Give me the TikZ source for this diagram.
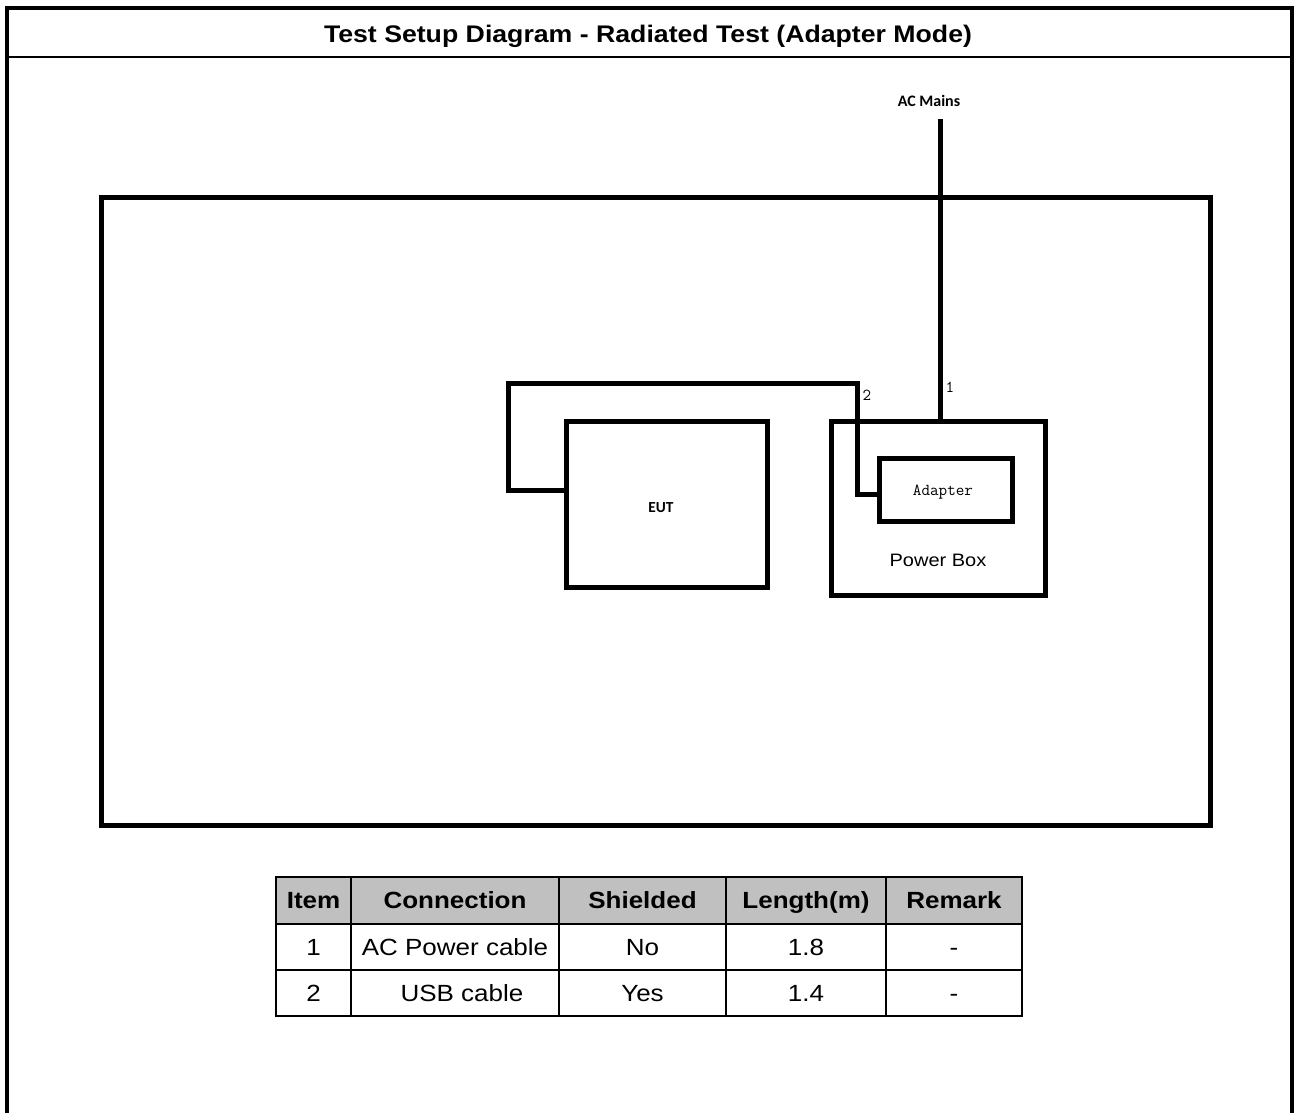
\documentclass[tikz,border=0pt]{standalone}
\usepackage{fontspec}
\usepackage{graphicx}
\setmainfont{Liberation Sans}
\newfontfamily\calfont{Carlito}
\newcommand\sqz[1]{\scalebox{1}[0.9]{#1}}
\def\px{0.75pt}
\begin{document}
\begin{tikzpicture}[x=0.75pt,y=-0.75pt,
  box/.style={draw, rectangle, line width=3.75pt, inner sep=0pt, outer sep=0pt},
  cable/.style={line width=3.75pt},
  frame/.style={line width=3pt},
  cell/.style={draw, rectangle, line width=1.5pt, inner sep=0pt, outer sep=0pt,
               text height=12.6pt, text depth=0pt,
               font=\fontsize{19.5}{22}\selectfont},
  head/.style={cell, fill=headgray, font=\bfseries\fontsize{19.5}{22}\selectfont},
  num/.style={font=\ttfamily\fontsize{12.5}{14}\selectfont, inner sep=0pt}]
\definecolor{headgray}{RGB}{192,192,192}
\useasboundingbox (0,0) rectangle (1295,1113);
\fill[white] (0,0) rectangle (1295,1113);

% outer frame and title
\draw[frame] (7,1113) -- (7,8) -- (1292,8) -- (1292,1113);
\draw[line width=1.6pt] (7,57) -- (1292,57);
\node[font=\bfseries\fontsize{20}{22}\selectfont, text height=12.9pt, text depth=0pt, inner sep=0pt]
  (title) at (648,33.5) {\sqz{Test Setup Diagram - Radiated Test (Adapter Mode)}};

% test room
\node[box, minimum width={1109*\px}, minimum height={628*\px}] (room) at (655.5,511) {};

% equipment
\node[box, minimum width={201*\px}, minimum height={166*\px}] (eut) at (666.5,504) {};
\node[font=\calfont\bfseries\fontsize{11.5}{13}\selectfont] (eutlabel) at (661,508) {EUT};
\node[box, minimum width={214*\px}, minimum height={174*\px}] (pbox) at (938,508) {};
\node[font=\fontsize{15}{17}\selectfont] (pboxlabel) at (938,560) {\sqz{Power Box}};
\node[box, minimum width={133*\px}, minimum height={63*\px}] (adapter) at (945.5,489.5) {};
\node[font=\ttfamily\fontsize{12.5}{14}\selectfont] (adlabel) at (943,492) {Adapter};

% AC mains cable (1)
\node[font=\calfont\bfseries\fontsize{12}{14}\selectfont] (acm) at (929,101) {AC Mains};
\coordinate (mtop) at (940,119);
\draw[cable] (mtop) -- (mtop |- pbox.north);
\node[num] (l1) at (950,387) {1};

% USB cable (2)
\draw[cable] (eut.west |- 0,490) -- (508,490) -- (508,383) -- (857,383) -- (857,494)
  -- (adapter.west |- 0,494);
\node[num] (l2) at (867,395) {2};

% table
\node[head, minimum width={75*\px},  minimum height={47*\px}] (h1) at (313.5,900.5) {\sqz{Item}};
\node[head, minimum width={208*\px}, minimum height={47*\px}] (h2) at (455,900.5) {\sqz{Connection}};
\node[head, minimum width={167*\px}, minimum height={47*\px}] (h3) at (642.5,900.5) {\sqz{Shielded}};
\node[head, minimum width={160*\px}, minimum height={47*\px}] (h4) at (806,900.5) {\sqz{Length(m)}};
\node[head, minimum width={136*\px}, minimum height={47*\px}] (h5) at (954,900.5) {\sqz{Remark}};

\node[cell, minimum width={75*\px},  minimum height={46*\px}] (a1) at (313.5,947) {\sqz{1}};
\node[cell, minimum width={208*\px}, minimum height={46*\px}] (a2) at (455,947) {\sqz{AC Power cable}};
\node[cell, minimum width={167*\px}, minimum height={46*\px}] (a3) at (642.5,947) {\sqz{No}};
\node[cell, minimum width={160*\px}, minimum height={46*\px}] (a4) at (806,947) {\sqz{1.8}};
\node[cell, minimum width={136*\px}, minimum height={46*\px}] (a5) at (954,947) {\sqz{-}};

\node[cell, minimum width={75*\px},  minimum height={46*\px}] (b1) at (313.5,993) {\sqz{2}};
\node[cell, minimum width={208*\px}, minimum height={46*\px}] (b2) at (455,993) {\hspace*{10.5pt}\sqz{USB cable}};
\node[cell, minimum width={167*\px}, minimum height={46*\px}] (b3) at (642.5,993) {\sqz{Yes}};
\node[cell, minimum width={160*\px}, minimum height={46*\px}] (b4) at (806,993) {\sqz{1.4}};
\node[cell, minimum width={136*\px}, minimum height={46*\px}] (b5) at (954,993) {\sqz{-}};
\end{tikzpicture}
\end{document}
